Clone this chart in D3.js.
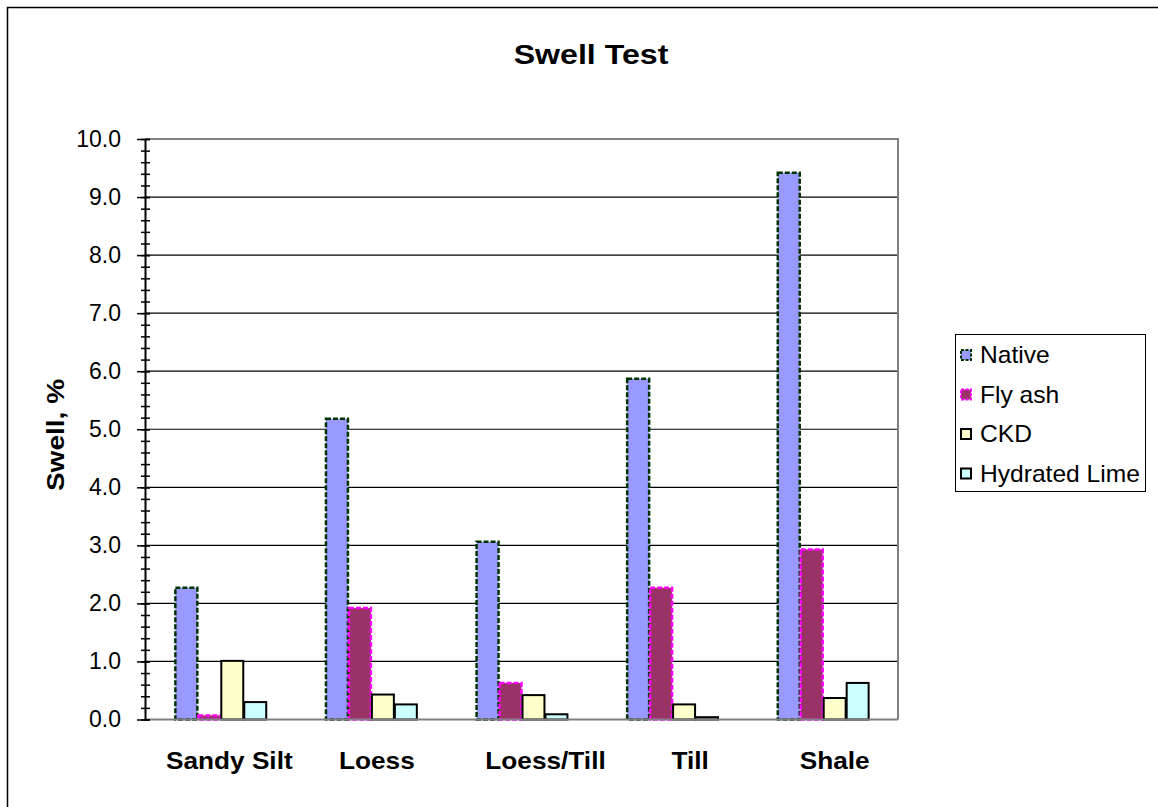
<!DOCTYPE html>
<html>
<head>
<meta charset="utf-8">
<script src="https://cdn.jsdelivr.net/npm/d3@7"></script>
<style>
  body { margin: 0; background: #fff; }
  text { font-family: Arial, "Liberation Sans", sans-serif; fill: #000; }
</style>
</head>
<body>
<svg id="chart" width="1158" height="807"></svg>
<script>
// soil types along the x axis
const categories = ['Sandy Silt', 'Loess', 'Loess/Till', 'Till', 'Shale'];
const seriesNames = ['Native', 'Fly ash', 'CKD', 'Hydrated Lime'];

// swell, % per treatment
const nativeVals = [2.27, 5.18, 3.06, 5.87, 9.42];
const flyAshVals = [0.07, 1.92, 0.63, 2.27, 2.93];
const ckdVals = [1.01, 0.43, 0.42, 0.26, 0.37];
const limeVals = [0.30, 0.26, 0.09, 0.04, 0.63];

const yTicks = [0, 1, 2, 3, 4, 5, 6, 7, 8, 9, 10];

// look of each series
const seriesStyle = {
  'Native': { fill: '#9999ff', stroke: '#003300', dash: '5,2', width: 2.5 },
  'Fly ash': { fill: '#993366', stroke: '#ff00ff', dash: '5,2', width: 2.5 },
  'CKD': { fill: '#ffffcc', stroke: '#000000', dash: null, width: 2 },
  'Hydrated Lime': { fill: '#ccffff', stroke: '#000000', dash: null, width: 2 }
};

// category labels sit a little off the group centres in the original
const labelShift = [9, 6, 24, 18, 12];

const table = categories.map((c, i) => ({
  category: c,
  values: [nativeVals[i], flyAshVals[i], ckdVals[i], limeVals[i]]
}));

const svg = d3.select('#chart');
const plot = { left: 145, right: 898, top: 139, bottom: 719.5 };

// outer frame
svg.append('rect')
  .attr('x', 7.5).attr('y', 7.5)
  .attr('width', 1158).attr('height', 807)
  .attr('fill', 'none').attr('stroke', '#000').attr('stroke-width', 1.5);

// the original text is drawn a bit wider than Arial, so stretch it
svg.append('text')
  .attr('transform', 'translate(591,64) scale(1.19,1)')
  .attr('text-anchor', 'middle')
  .style('font-size', '27px').style('font-weight', 'bold')
  .text('Swell Test');

const x = d3.scaleBand()
  .domain(categories)
  .range([plot.left, plot.right])
  .paddingInner(0.39)
  .paddingOuter(0.195);

const xInner = d3.scaleBand()
  .domain(seriesNames)
  .range([0, x.bandwidth()]);

const y = d3.scaleLinear()
  .domain([0, 10])
  .range([plot.bottom, plot.top]);

// gridlines
svg.append('g')
  .selectAll('line')
  .data(yTicks.slice(1))
  .join('line')
  .attr('x1', plot.left).attr('x2', plot.right)
  .attr('y1', d => y(d)).attr('y2', d => y(d))
  .attr('stroke', '#000').attr('stroke-width', 1.2);

// plot border on top and right
svg.append('path')
  .attr('d', `M${plot.left},${plot.top}H${plot.right}V${plot.bottom}`)
  .attr('fill', 'none').attr('stroke', '#808080').attr('stroke-width', 2);

// bars
const groups = svg.append('g')
  .selectAll('g')
  .data(table)
  .join('g')
  .attr('transform', d => `translate(${x(d.category)},0)`);

groups.selectAll('rect')
  .data(d => d.values.map((v, i) => ({ name: seriesNames[i], value: v })))
  .join('rect')
  .attr('x', d => xInner(d.name) + 1)
  .attr('width', xInner.bandwidth() - 1)
  .attr('y', d => y(d.value))
  .attr('height', d => y(0) - y(d.value))
  .attr('fill', d => seriesStyle[d.name].fill)
  .attr('stroke', d => seriesStyle[d.name].stroke)
  .attr('stroke-width', d => seriesStyle[d.name].width)
  .attr('stroke-dasharray', d => seriesStyle[d.name].dash);

// x axis baseline
svg.append('line')
  .attr('x1', plot.left).attr('x2', plot.right)
  .attr('y1', y(0)).attr('y2', y(0))
  .attr('stroke', '#808080').attr('stroke-width', 2);

// category labels
svg.append('g')
  .selectAll('text')
  .data(categories)
  .join('text')
  .attr('transform', (d, i) => `translate(${x(d) + x.bandwidth() / 2 + labelShift[i]},769) scale(1.07,1)`)
  .attr('text-anchor', 'middle')
  .style('font-size', '24.5px').style('font-weight', 'bold')
  .text(d => d);

// y axis: minor ticks every 0.2
const minorAxis = svg.append('g')
  .attr('transform', `translate(${plot.left},0)`)
  .call(d3.axisLeft(y).tickValues(d3.range(0, 51).map(k => k / 5)).tickFormat('').tickSizeOuter(0));
minorAxis.select('.domain').remove();
minorAxis.selectAll('.tick line').attr('x1', 5).attr('x2', -4).attr('stroke', '#000').attr('stroke-width', 1.5);

const yAxis = svg.append('g')
  .attr('transform', `translate(${plot.left},0)`)
  .call(d3.axisLeft(y).tickValues(yTicks).tickFormat(d3.format('.1f')).tickSizeOuter(0).tickPadding(16));
yAxis.select('.domain').attr('stroke', '#000').attr('stroke-width', 2);
yAxis.selectAll('.tick line').attr('x1', 5).attr('x2', -8).attr('stroke', '#000').attr('stroke-width', 1.5);
yAxis.selectAll('.tick text')
  .attr('x', -24)
  .style('font-size', '23px')
  .style('font-family', 'Arial, "Liberation Sans", sans-serif')
  .attr('fill', '#000');

svg.append('text')
  .attr('transform', 'translate(64,435) rotate(-90) scale(1.22,1)')
  .attr('text-anchor', 'middle')
  .style('font-size', '23px').style('font-weight', 'bold')
  .text('Swell, %');

// legend
const legend = svg.append('g').attr('transform', 'translate(955,334)');
legend.append('rect')
  .attr('x', 0.5).attr('y', 0.5)
  .attr('width', 190).attr('height', 157)
  .attr('fill', '#fff').attr('stroke', '#000').attr('stroke-width', 1);

const items = legend.selectAll('g.item')
  .data(seriesNames)
  .join('g')
  .attr('class', 'item')
  .attr('transform', (d, i) => `translate(0,${21 + i * 39.5})`);

items.append('rect')
  .attr('x', 6).attr('y', -5)
  .attr('width', 10).attr('height', 10)
  .attr('fill', d => seriesStyle[d].fill)
  .attr('stroke', d => seriesStyle[d].stroke)
  .attr('stroke-width', 2)
  .attr('stroke-dasharray', d => seriesStyle[d].dash ? '3,1.5' : null);

items.append('text')
  .attr('transform', 'translate(25,8) scale(1.07,1)')
  .style('font-size', '23px')
  .text(d => d);
</script>
</body>
</html>
